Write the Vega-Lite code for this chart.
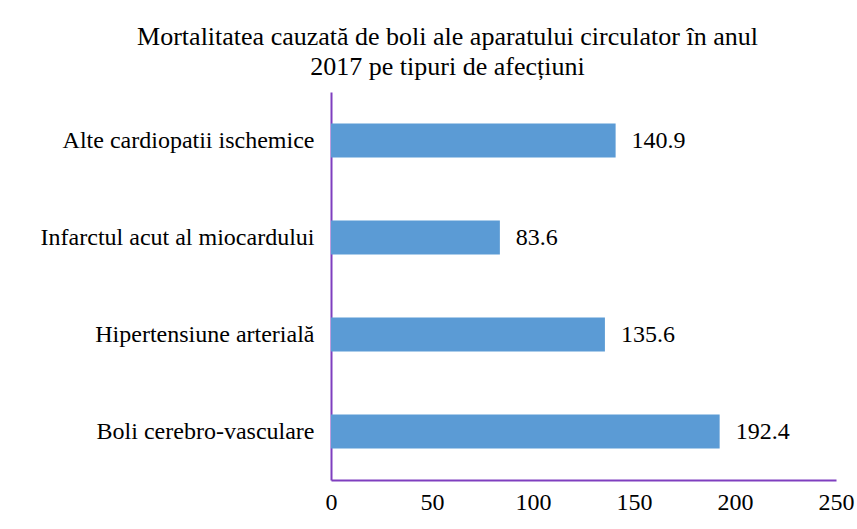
{
  "$schema": "https://vega.github.io/schema/vega-lite/v6.json",
  "autosize": "none",
  "width": 505,
  "height": 388,
  "padding": {"left": 331, "top": 92, "right": 21, "bottom": 49},
  "background": "white",
  "title": {
    "text": ["Mortalitatea cauzată de boli ale aparatului circulator în anul", "2017 pe tipuri de afecțiuni"],
    "font": "Liberation Serif",
    "fontSize": 26,
    "fontWeight": "normal",
    "color": "#000000",
    "anchor": "middle",
    "dx": -136,
    "offset": 12,
    "lineHeight": 30
  },
  "data": {
    "values": [
      {"category": "Alte cardiopatii ischemice", "value": 140.9},
      {"category": "Infarctul acut al miocardului", "value": 83.6},
      {"category": "Hipertensiune arterială", "value": 135.6},
      {"category": "Boli cerebro-vasculare", "value": 192.4}
    ]
  },
  "encoding": {
    "y": {
      "field": "category",
      "type": "nominal",
      "sort": null,
      "scale": {"paddingInner": 0.65, "paddingOuter": 0.325},
      "axis": {
        "title": null,
        "ticks": false,
        "domainColor": "#7F3FBF",
        "domainWidth": 2,
        "labelFont": "Liberation Serif",
        "labelFontSize": 24,
        "labelColor": "#000000",
        "labelPadding": 17,
        "labelLimit": 400
      }
    },
    "x": {
      "field": "value",
      "type": "quantitative",
      "scale": {"domain": [0, 250], "nice": false},
      "axis": {
        "title": null,
        "values": [0, 50, 100, 150, 200, 250],
        "ticks": false,
        "grid": false,
        "domainColor": "#7F3FBF",
        "domainWidth": 2,
        "labelFont": "Liberation Serif",
        "labelFontSize": 24,
        "labelColor": "#000000",
        "labelPadding": 10,
        "labelFlush": false
      }
    }
  },
  "layer": [
    {"mark": {"type": "bar", "color": "#5B9BD5"}},
    {
      "mark": {"type": "text", "align": "left", "dx": 16, "font": "Liberation Serif", "fontSize": 24, "color": "#000000"},
      "encoding": {"text": {"field": "value", "type": "quantitative", "format": ".1f"}}
    }
  ],
  "config": {"view": {"stroke": null}}
}
